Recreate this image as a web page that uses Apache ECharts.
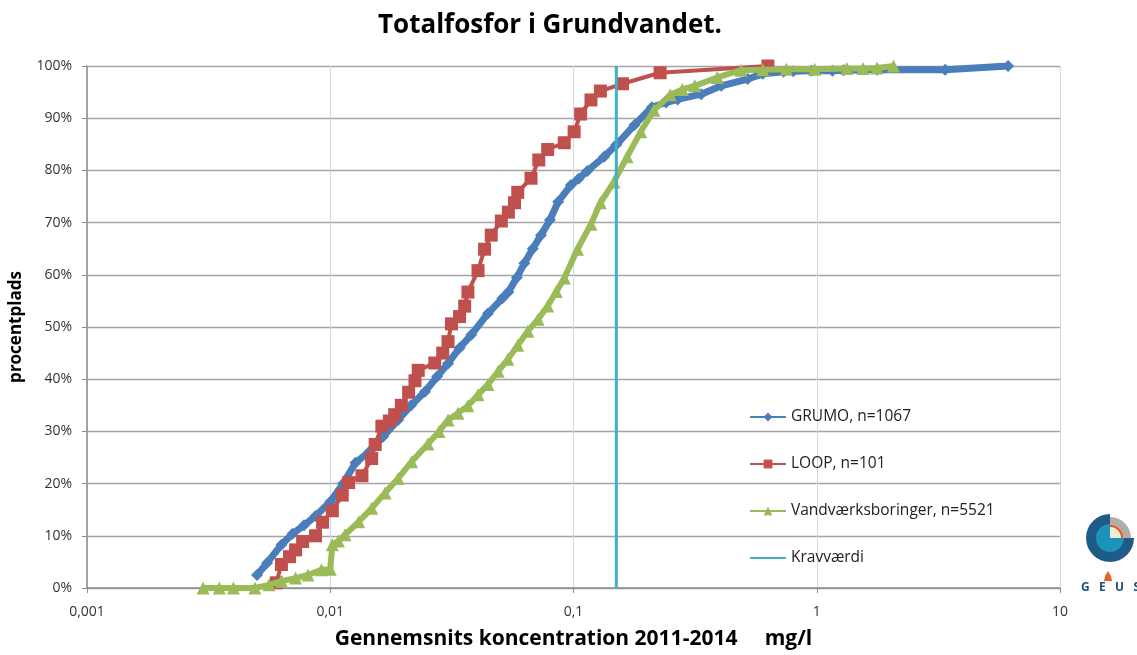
<!DOCTYPE html>
<html>
<head>
<meta charset="utf-8">
<title>Totalfosfor i Grundvandet</title>
<script src="https://cdn.jsdelivr.net/npm/echarts@6/dist/echarts.min.js"></script>
<style>
  html, body { margin: 0; padding: 0; background: #ffffff; overflow: hidden; }
  #chart { width: 1137px; height: 655px; }
</style>
</head>
<body>
<div id="chart"></div>
<script>
// Cumulative distribution of total phosphorus (mg/l), percentile rank in %
const grumoConc = [0.0050, 0.0055, 0.0063, 0.0070, 0.0078, 0.0087, 0.0100, 0.0113, 0.0127, 0.0144,
  0.0165, 0.0190, 0.0215, 0.0245, 0.0275, 0.0305, 0.0340, 0.0380, 0.0445, 0.0510,
  0.0540, 0.0585, 0.0628, 0.0680, 0.0735, 0.0800, 0.0865, 0.0976, 0.1050, 0.1140,
  0.1336, 0.1500, 0.1780, 0.2100, 0.2400, 0.2680, 0.3350, 0.4050, 0.5200, 0.6000,
  0.7300, 0.8000, 0.9500, 1.1600, 1.2900, 1.7700, 3.3700, 6.1200];
const grumoPct = [2.5, 4.8, 8.3, 10.4, 12.0, 13.8, 16.5, 20.0, 24.0, 26.0,
  29.0, 32.2, 35.0, 37.6, 40.5, 43.0, 46.0, 48.5, 52.6, 55.5,
  56.7, 59.5, 62.2, 65.0, 67.6, 70.5, 74.0, 77.2, 78.4, 79.9,
  82.6, 84.9, 88.7, 92.1, 93.0, 93.6, 94.6, 96.2, 97.5, 98.5,
  98.9, 99.0, 99.1, 99.1, 99.2, 99.3, 99.3, 100];

const loopConc = [0.0060, 0.0063, 0.0068, 0.0072, 0.0077, 0.0087, 0.0093, 0.0102, 0.0112, 0.0119,
  0.0135, 0.0148, 0.0153, 0.0163, 0.0175, 0.0184, 0.0196, 0.0210, 0.0223, 0.0230,
  0.0269, 0.0290, 0.0305, 0.0315, 0.0340, 0.0357, 0.0368, 0.0405, 0.0431, 0.0459,
  0.0505, 0.0540, 0.0572, 0.0590, 0.0669, 0.0720, 0.0783, 0.0916, 0.1006, 0.1070,
  0.1180, 0.1290, 0.1590, 0.2270, 0.6300];
const loopPct = [1.0, 4.5, 6.0, 7.3, 8.9, 10.0, 12.6, 14.8, 17.8, 20.2,
  21.5, 24.8, 27.5, 31.0, 32.0, 33.2, 35.0, 37.5, 39.7, 41.7,
  43.1, 45.0, 47.2, 50.6, 52.0, 54.0, 56.7, 60.8, 64.9, 67.6,
  70.3, 72.0, 73.8, 75.8, 78.5, 82.0, 84.0, 85.3, 87.4, 90.8,
  93.5, 95.2, 96.6, 98.7, 100];

const vvConc = [0.0030, 0.0035, 0.0040, 0.0049, 0.0056, 0.0063, 0.0072, 0.0081, 0.0092, 0.0100,
  0.0102, 0.0108, 0.0115, 0.0131, 0.0148, 0.0168, 0.0190, 0.0216, 0.0252, 0.0280,
  0.0305, 0.0335, 0.0368, 0.0405, 0.0445, 0.0490, 0.0537, 0.0590, 0.0649, 0.0715,
  0.0783, 0.0850, 0.0917, 0.1038, 0.1180, 0.1290, 0.1466, 0.1660, 0.1890, 0.2140,
  0.2500, 0.2800, 0.3150, 0.3900, 0.4880, 0.6000, 0.7500, 0.9800, 1.3300, 1.5500,
  1.7700, 2.0700];
const vvPct = [0, 0, 0, 0, 0.6, 1.3, 1.9, 2.5, 3.5, 3.6,
  8.3, 9.0, 10.2, 12.7, 15.3, 18.2, 21.0, 24.2, 27.6, 30.0,
  32.2, 33.5, 34.9, 37.0, 39.0, 41.5, 43.8, 46.5, 49.2, 51.5,
  54.0, 56.8, 59.4, 64.9, 69.7, 73.8, 77.8, 82.6, 87.4, 91.5,
  94.5, 95.5, 96.2, 97.8, 99.2, 99.3, 99.4, 99.4, 99.5, 99.5,
  99.6, 100];

// Limit value (mg/l) drawn as a vertical line across the full range
const kravConc = [0.15, 0.15];
const kravPct = [0, 100];

const xTickLabels = ['0,001', '0,01', '0,1', '1', '10'];
const seriesNames = ['GRUMO, n=1067', 'LOOP, n=101', 'Vandværksboringer, n=5521', 'Kravværdi'];

const pairs = (xs, ys) => xs.map((x, i) => [x, ys[i]]);

const FONT = "'Open Sans', 'Noto Sans', sans-serif";

const chart = echarts.init(document.getElementById('chart'), null, { renderer: 'canvas', width: 1137, height: 655 });

chart.setOption({
  backgroundColor: '#ffffff',
  animation: false,
  title: {
    text: 'Totalfosfor i Grundvandet.',
    left: 378,
    top: 13,
    padding: 0,
    textStyle: { fontFamily: FONT, fontWeight: 'bold', fontSize: 26, color: '#000' }
  },
  grid: { left: 84, top: 66, width: 976, height: 524 },
  legend: {
    orient: 'vertical',
    left: 749,
    top: 409,
    padding: 0,
    itemWidth: 36,
    itemHeight: 11,
    itemGap: 31,
    data: [
      seriesNames[0],
      seriesNames[1],
      seriesNames[2],
      { name: seriesNames[3], itemStyle: { opacity: 0 } }
    ],
    textStyle: { fontFamily: FONT, fontSize: 15.5, color: '#222', lineHeight: 16 }
  },
  xAxis: {
    type: 'log',
    logBase: 10,
    min: 0.001,
    max: 10,
    name: 'Gennemsnits koncentration 2011-2014     mg/l',
    nameLocation: 'middle',
    nameGap: 41,
    nameTextStyle: { fontFamily: FONT, fontWeight: 'bold', fontSize: 21, color: '#000' },
    axisLine: { lineStyle: { color: '#8c8c8c', width: 1.5 } },
    axisTick: { show: true, length: 5, lineStyle: { color: '#8c8c8c' } },
    minorTick: { show: false },
    axisLabel: {
      margin: 17,
      fontFamily: FONT, fontSize: 14, color: '#333',
      formatter: v => xTickLabels[Math.round(Math.log10(v)) + 3]
    },
    splitLine: { show: true, lineStyle: { color: '#c9daee', width: 1 } }
  },
  yAxis: {
    type: 'value',
    min: 0,
    max: 100,
    interval: 10,
    name: 'procentplads',
    nameLocation: 'middle',
    nameGap: 62,
    nameTextStyle: { fontFamily: FONT, fontWeight: 'bold', fontSize: 17, color: '#000' },
    axisLine: { show: true, lineStyle: { color: '#8c8c8c', width: 1.5 } },
    axisTick: { show: true, length: 5, lineStyle: { color: '#8c8c8c' } },
    axisLabel: { margin: 15, fontFamily: FONT, fontSize: 14, color: '#333', formatter: '{value}%' },
    splitLine: { show: true, lineStyle: { color: '#a4a4a4', width: 1.4 } }
  },
  series: [
    {
      name: seriesNames[0], type: 'line',
      data: pairs(grumoConc, grumoPct),
      symbol: 'diamond', symbolSize: 12,
      itemStyle: { color: '#4a7ebb' },
      lineStyle: { color: '#4a7ebb', width: 7 },
      z: 2
    },
    {
      name: seriesNames[1], type: 'line',
      data: pairs(loopConc, loopPct),
      symbol: 'rect', symbolSize: 13,
      itemStyle: { color: '#c0504d' },
      lineStyle: { color: '#c0504d', width: 4 },
      z: 3
    },
    {
      name: seriesNames[2], type: 'line',
      data: pairs(vvConc, vvPct),
      symbol: 'triangle', symbolSize: 13,
      itemStyle: { color: '#9bbb59' },
      lineStyle: { color: '#9bbb59', width: 6 },
      z: 4
    },
    {
      name: seriesNames[3], type: 'line',
      data: pairs(kravConc, kravPct),
      symbol: 'none',
      itemStyle: { color: '#4bacc6' },
      lineStyle: { color: '#3fb0c9', width: 3 },
      z: 5
    }
  ],
  graphic: [
    // GEUS emblem
    { type: 'sector', shape: { cx: 1110, cy: 538, r: 24, r0: 0, startAngle: 0, endAngle: Math.PI * 1.5, clockwise: true }, style: { fill: '#1e5b86' } },
    { type: 'sector', shape: { cx: 1110, cy: 538, r: 21, r0: 0, startAngle: -Math.PI / 2, endAngle: 0, clockwise: true }, style: { fill: '#b5aca6' } },
    { type: 'sector', shape: { cx: 1110, cy: 538, r: 14, r0: 0, startAngle: 0, endAngle: Math.PI * 1.5, clockwise: true }, style: { fill: '#1c93b8' } },
    { type: 'sector', shape: { cx: 1110, cy: 538, r: 13, r0: 0, startAngle: -Math.PI / 2, endAngle: 0, clockwise: true }, style: { fill: '#e8571f' } },
    { type: 'sector', shape: { cx: 1110, cy: 538, r: 11, r0: 0, startAngle: -Math.PI / 2, endAngle: 0, clockwise: true }, style: { fill: '#f3ecd2' } },
    { type: 'polygon', shape: { points: [[1104, 581], [1112, 581], [1111, 576], [1108, 571], [1105, 576]] }, style: { fill: '#e8632a' } },
    { type: 'text', style: { x: 1081, y: 582, text: 'G   E   U   S', fontFamily: FONT, fontWeight: 'bold', fontSize: 12, fill: '#1e4f78' } }
  ]
});
</script>
</body>
</html>
